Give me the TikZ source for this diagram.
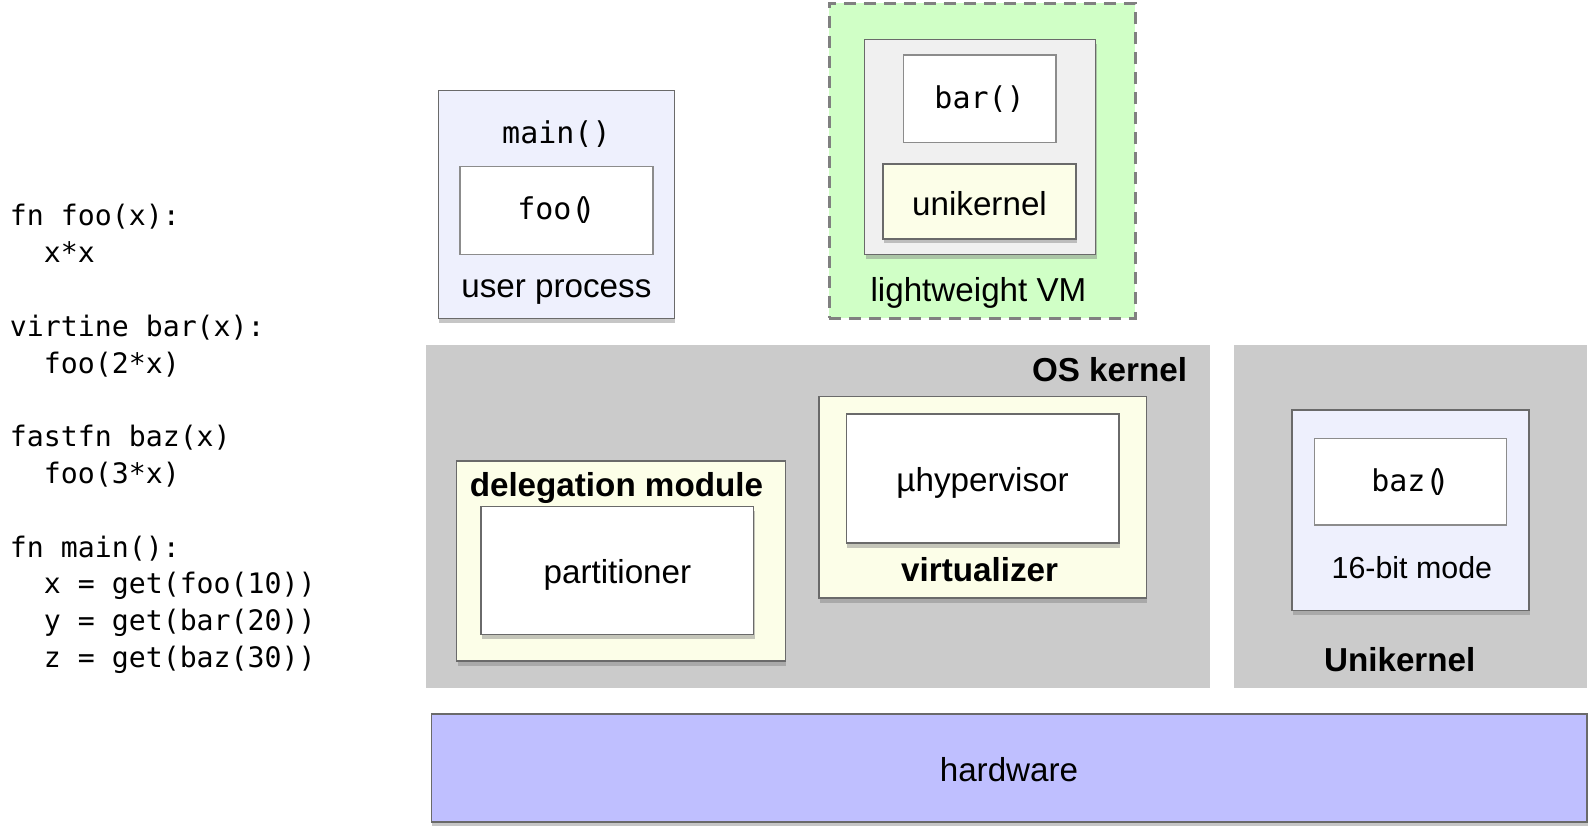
\documentclass[tikz,border=0pt]{standalone}
\usepackage{fontspec}
\setmainfont{Liberation Sans}
\newfontfamily\codefont{DejaVu Sans Mono}
\usetikzlibrary{positioning,shadows}

\definecolor{lavande}{HTML}{EEF0FD}
\definecolor{jaune}{HTML}{FCFEE8}
\definecolor{vert}{HTML}{D0FFC6}
\definecolor{grisclair}{HTML}{F0F0F0}
\definecolor{grisfond}{HTML}{CBCBCB}
\definecolor{materiel}{HTML}{BFBFFF}
\definecolor{bordure}{HTML}{6A6A6A}
\definecolor{bordureclaire}{HTML}{8C8C8C}
\definecolor{tirets}{HTML}{808080}

\tikzset{
  etiquette/.style={font=\fontsize{16.6}{20}\selectfont},
  titre/.style={font=\bfseries\fontsize{16.6}{20}\selectfont},
  mono/.style={font=\codefont\fontsize{15}{18}\selectfont},
  boite/.style={draw=bordure,line width=0.75pt,etiquette,
    drop shadow={shadow xshift=0.5pt,shadow yshift=-2.2pt,opacity=0.45}},
  blanc/.style={draw=bordureclaire,line width=0.7pt,fill=white,mono},
  region/.style={fill=grisfond}
}

\begin{document}
\begin{tikzpicture}[x=0.5pt,y=-0.5pt,every node/.style={inner sep=0pt,outer sep=0pt}]

    \useasboundingbox (0,0) rectangle (1595,835);

    %Code source
    \node[anchor=west,align=left,font=\codefont\fontsize{14.1}{18.4}\selectfont] (code) at (10,439)
      {fn foo(x):\\ \phantom{xx}x*x\\[18.4pt]
       virtine bar(x):\\ \phantom{xx}foo(2*x)\\[18.4pt]
       fastfn baz(x)\\ \phantom{xx}foo(3*x)\\[18.4pt]
       fn main():\\ \phantom{xx}x = get(foo(10))\\ \phantom{xx}y = get(bar(20))\\ \phantom{xx}z = get(baz(30))};

    %Processus utilisateur
    \node[boite,fill=lavande,minimum width=118pt,minimum height=114pt] (userproc) at (556.4,204.5) {};
    \node[blanc,minimum width=96.5pt,minimum height=43.75pt] (foo) at (556.4,210.5) {foo(\kern-0.4em)};
    \node[mono] (main) at (556.4,134.2) {main()};
    \node[etiquette] (userlbl) at (556.4,291.8) {user process};

    %Machine virtuelle
    \node[draw=tirets,dash pattern=on 6pt off 4pt,line width=1.5pt,fill=vert,minimum width=153pt,minimum height=157.5pt] (vm) at (982.1,160.5) {};
    \node[boite,fill=grisclair,minimum width=115.5pt,minimum height=107.3pt] (vminner) at (980,147) {};
    \node[blanc,minimum width=76.3pt,minimum height=43.75pt] (bar) at (979.6,98.6) {bar()};
    \node[boite,fill=jaune,minimum width=96.7pt,minimum height=37.6pt] (uniker) at (979.5,201.4) {\raisebox{-1pt}[\height][\depth]{unikernel}};
    \node[etiquette] (vmlbl) at (978.5,293.4) {lightweight VM};

    %Noyau
    \node[region,minimum width=391.65pt,minimum height=171.4pt] (oskernel) at (817.9,516.2) {};
    \node[titre,anchor=east] (oslbl) at (1187,369.2) {OS kernel};
    \node[boite,fill=jaune,minimum width=164.3pt,minimum height=100.2pt] (deleg) at (621,561) {};
    \node[titre] (deleglbl) at (616.4,488.2) {delegation module};
    \node[boite,fill=white,minimum width=136.3pt,minimum height=64pt] (part) at (617.4,570.7) {\raisebox{-2pt}[\height][\depth]{partitioner}};
    \node[boite,fill=jaune,minimum width=163.8pt,minimum height=100.7pt] (virt) at (982.6,497.4) {};
    \node[boite,fill=white,minimum width=136.3pt,minimum height=64.6pt] (hyper) at (982.6,478.6) {\raisebox{-2pt}[\height][\depth]{µhypervisor}};
    \node[titre] (virtlbl) at (979.6,569.6) {virtualizer};

    %Unikernel
    \node[region,minimum width=176.45pt,minimum height=171.4pt] (unik) at (1410.4,516.2) {};
    \node[boite,fill=lavande,minimum width=118.55pt,minimum height=100.2pt] (mode) at (1410.4,510.1) {};
    \node[blanc,minimum width=96.15pt,minimum height=43.25pt] (baz) at (1410.4,481.7) {baz(\kern-0.4em)};
    \node[font=\fontsize{15.2}{18}\selectfont] (modelbl) at (1411.9,567.6) {16-bit mode};
    \node[titre] (uniklbl) at (1399.7,659.2) {Unikernel};

    %Materiel
    \node[boite,fill=materiel,minimum width=577.75pt,minimum height=53.9pt] (hw) at (1009,768) {\raisebox{-1pt}[\height][\depth]{hardware}};

\end{tikzpicture}
\end{document}
